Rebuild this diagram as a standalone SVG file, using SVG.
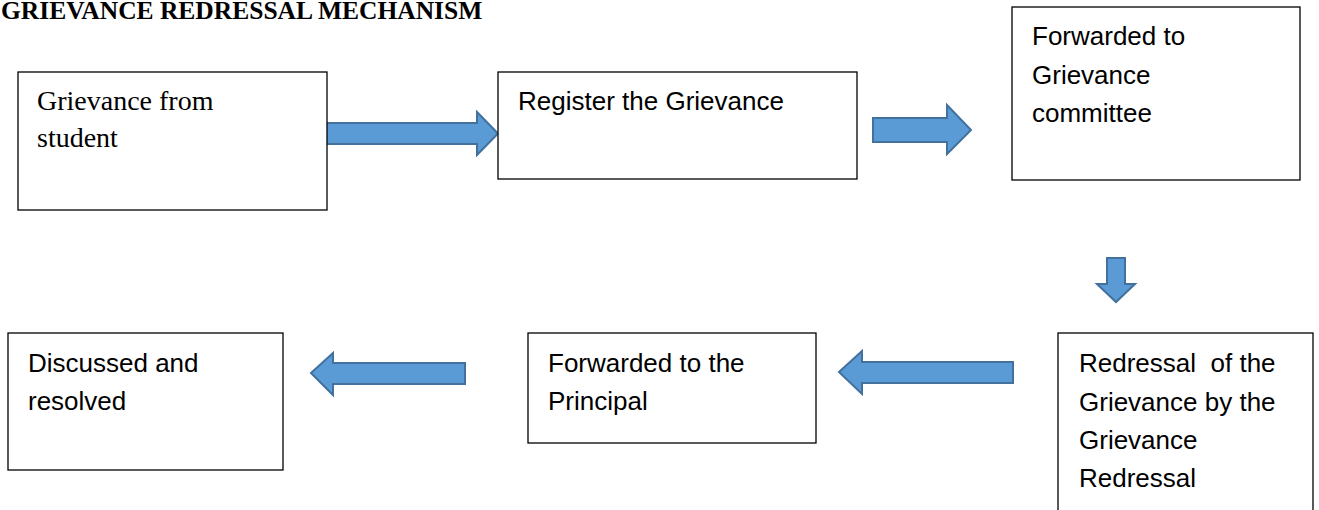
<svg xmlns="http://www.w3.org/2000/svg" width="1319" height="510" viewBox="0 0 1319 510">
<style>
.box{fill:#fff;stroke:#000;stroke-width:1.3}
.t{font-family:"Liberation Sans",Arial,sans-serif;font-size:26px;fill:#000;white-space:pre}
.s{font-family:"Liberation Serif","Times New Roman",serif;font-size:28px;fill:#000}
.title{font-family:"Liberation Serif","Times New Roman",serif;font-size:25.5px;font-weight:bold;fill:#000}
.arr{fill:#5B9BD5;stroke:#41719C;stroke-width:2;stroke-linejoin:miter}
</style>
<rect width="1319" height="510" fill="#fff"/>
<text class="title" x="1" y="19">GRIEVANCE REDRESSAL MECHANISM</text>
<g id="connectors">
<polygon class="arr" points="325,123 477,123 477,112 498,133.5 477,155 477,144 325,144"/>
<polygon class="arr" points="873,118 947,118 947,105 971,130 947,154 947,142 873,142"/>
<polygon class="arr" points="1107,258 1125,258 1125,284 1135,284 1116,302 1097,284 1107,284"/>
<polygon class="arr" points="311,373 333,353 333,363 465,363 465,384 333,384 333,395"/>
<polygon class="arr" points="839,372 862,351 862,362 1013,362 1013,383 862,383 862,394"/>
</g>
<g id="node-student">
<rect class="box" x="18" y="72" width="309" height="138"/>
<text class="s" x="37" y="110">Grievance from</text>
<text class="s" x="37" y="147">student</text>
</g>
<g id="node-register">
<rect class="box" x="498" y="72" width="359" height="107"/>
<text class="t" x="518" y="110">Register the Grievance</text>
</g>
<g id="node-committee">
<rect class="box" x="1012" y="7" width="288" height="173"/>
<text class="t" x="1032" y="45">Forwarded to</text>
<text class="t" x="1032" y="84">Grievance</text>
<text class="t" x="1032" y="122">committee</text>
</g>
<g id="node-redressal">
<rect class="box" x="1058" y="333" width="255" height="200"/>
<text class="t" x="1079" y="372" xml:space="preserve">Redressal  of the</text>
<text class="t" x="1079" y="411">Grievance by the</text>
<text class="t" x="1079" y="449">Grievance</text>
<text class="t" x="1079" y="487">Redressal</text>
</g>
<g id="node-principal">
<rect class="box" x="528" y="333" width="288" height="110"/>
<text class="t" x="548" y="372">Forwarded to the</text>
<text class="t" x="548" y="410">Principal</text>
</g>
<g id="node-resolved">
<rect class="box" x="8" y="333" width="275" height="137"/>
<text class="t" x="28" y="372">Discussed and</text>
<text class="t" x="28" y="410">resolved</text>
</g>
</svg>
